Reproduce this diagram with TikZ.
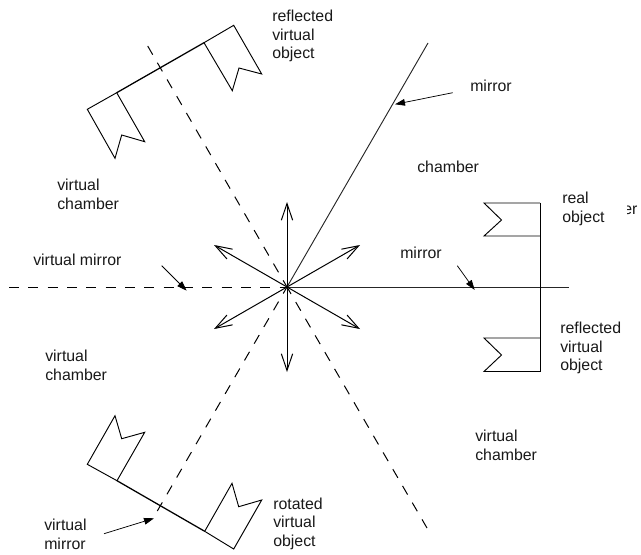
\documentclass[tikz,border=0pt]{standalone}
\usepackage{fontspec}
\setmainfont{Liberation Sans}
\usetikzlibrary{arrows.meta}
\tikzset{
  x=0.75pt,y=-0.75pt,
  lbl/.style={font=\fontsize{11.9pt}{13.9pt}\selectfont,align=left,anchor=north west,inner sep=0pt,text=black!90},
  solidline/.style={line width=0.7pt,draw=black!85},
  flagline/.style={line width=0.7pt,draw=black,line join=miter},
  heavyline/.style={line width=0.95pt,draw=black},
  dashline/.style={line width=0.75pt,draw=black,dash pattern=on 7.5pt off 7pt},
  openarrow/.style={line width=0.75pt,draw=black,-{Straight Barb[length=12.5pt,width=8.5pt,line width=0.75pt]}},
  pointer/.style={line width=0.55pt,draw=black,-{Triangle[length=7.5pt,width=5pt]}},
}
\begin{document}
\begin{tikzpicture}
\useasboundingbox (0,0) rectangle (641,554);
\coordinate (O) at (287,287);
% mirrors
\coordinate (mA) at (428,43);
\coordinate (mB) at (569,287);
\coordinate (dL) at (9,287);
\coordinate (dUL) at (147.7,46);
\coordinate (dLL) at (157.3,511);
\coordinate (dLR) at (427,528);
\draw[solidline] (O) -- (mA);
\draw[solidline] (O) -- (mB);
\draw[dashline] (dL) -- (O);
\draw[dashline] (dUL) -- (O);
\draw[dashline] (dLL) -- (O);
\draw[dashline] (dLR) -- (O);
% star arrows
\coordinate (a1) at (287,202);
\coordinate (a2) at (287,372);
\coordinate (a3) at (360,245);
\coordinate (a4) at (360,329);
\coordinate (a5) at (214,245);
\coordinate (a6) at (214,329);
\foreach \t in {a1,a2,a3,a4,a5,a6} \draw[openarrow] (O) -- (\t);
% right flags
\draw[flagline] (540,203) -- (540,371.5);
\draw[flagline] (540,203) -- (484,203) -- (501.5,220) -- (484,236) -- (540,236);
\draw[flagline] (540,338) -- (484,338) -- (501.5,355) -- (484,371.5) -- (540,371.5);
% upper left flags
\draw[heavyline] (116.7,92.7) -- (204,42.7);
\draw[flagline] (116.7,92.7) -- (87.3,109.3) -- (115,158.3) -- (121.7,135) -- (144.7,141.7) -- cycle;
\draw[flagline] (204,42.7) -- (233.7,25.3) -- (261.7,74) -- (239,68) -- (232.3,90.7) -- cycle;
% lower left flags
\draw[heavyline] (117,480.7) -- (204.7,531.3);
\draw[flagline] (117,480.7) -- (87.3,464.3) -- (115,415.7) -- (121.7,438.7) -- (144.7,432.3) -- cycle;
\draw[flagline] (204.7,531.3) -- (233.7,549) -- (261.7,500) -- (238.7,506.7) -- (232,483.3) -- cycle;
% pointers
\coordinate (p1s) at (452.7,92.7);
\coordinate (p1e) at (395,104.3);
\coordinate (p2s) at (457.3,265.7);
\coordinate (p2e) at (474.7,290);
\coordinate (p3s) at (161.7,265.7);
\coordinate (p3e) at (186.7,290.7);
\coordinate (p4s) at (104,533.7);
\coordinate (p4e) at (154,518.3);
\draw[pointer] (p1s) -- (p1e);
\draw[pointer] (p2s) -- (p2e);
\draw[pointer] (p3s) -- (p3e);
\draw[pointer] (p4s) -- (p4e);
% labels
\node[lbl] (t1) at (272,10) {reflected\\virtual\\object};
\node[lbl] (t2) at (470,80) {mirror};
\node[lbl] (t3) at (417,161) {chamber};
\node[lbl] (t4) at (562,192) {real\\object};
\begin{scope}
\clip (627,200) rectangle (641,225);
\node[lbl] (t5) at (623,206) {er};
\end{scope}
\node[lbl] (t6) at (400,246.5) {mirror};
\node[lbl] (t7) at (560,322) {reflected\\virtual\\object};
\node[lbl] (t8) at (475,430) {virtual\\chamber};
\node[lbl] (t9) at (57,179) {virtual\\chamber};
\node[lbl] (t10) at (33,254) {virtual mirror};
\node[lbl] (t11) at (45,350) {virtual\\chamber};
\node[lbl] (t12) at (44,519) {virtual\\mirror};
\node[lbl] (t13) at (273,497.5) {rotated\\virtual\\object};
\end{tikzpicture}
\end{document}
